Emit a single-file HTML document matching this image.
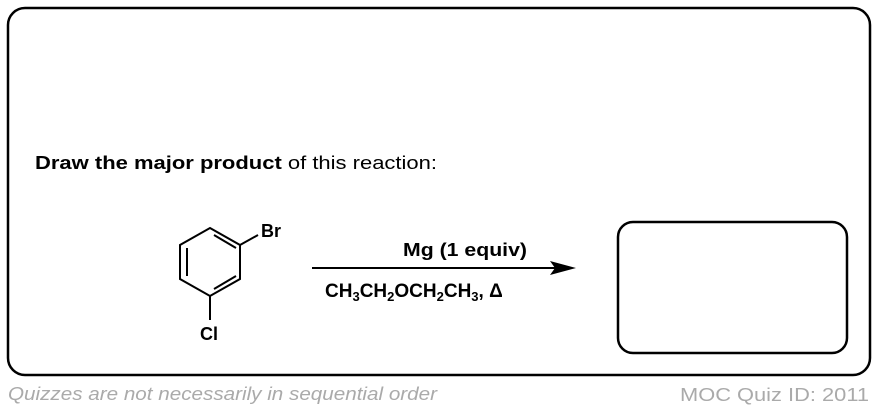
<!DOCTYPE html>
<html><head><style>html,body{margin:0;padding:0;background:#fff;width:878px;height:412px;overflow:hidden}</style></head>
<body>
<svg width="878" height="412" xmlns="http://www.w3.org/2000/svg" font-family="Liberation Sans, Arial, sans-serif">
<rect x="8" y="8" width="862" height="367" rx="17" fill="none" stroke="#000" stroke-width="2.5"/>
<rect x="618" y="222" width="229" height="131" rx="15" fill="none" stroke="#000" stroke-width="2.5"/>
<text x="35" y="169" font-size="18" textLength="402" lengthAdjust="spacingAndGlyphs"><tspan font-weight="bold">Draw the major product</tspan> of this reaction:</text>
<g stroke="#000" stroke-width="2" fill="none">
<polygon points="210,228 240,245 240,279 210,296 180,279 180,245"/>
<line x1="214" y1="235" x2="236" y2="248"/>
<line x1="187" y1="248" x2="187" y2="276"/>
<line x1="214" y1="289" x2="236" y2="276"/>
<line x1="240" y1="245" x2="258" y2="235"/>
<line x1="210" y1="296" x2="210" y2="320"/>
<line x1="312" y1="268" x2="555" y2="268"/>
</g>
<polygon points="576,268 550,261 555,268 550,275" fill="#000"/>
<text x="261" y="237" font-size="18" font-weight="bold">Br</text>
<text x="200" y="340" font-size="18" font-weight="bold">Cl</text>
<text x="403" y="256" font-size="18" font-weight="bold" textLength="124" lengthAdjust="spacingAndGlyphs">Mg (1 equiv)</text>
<text x="325" y="297" font-size="19" font-weight="bold">CH<tspan font-size="13" dy="4">3</tspan><tspan dy="-4">CH</tspan><tspan font-size="13" dy="4">2</tspan><tspan dy="-4">OCH</tspan><tspan font-size="13" dy="4">2</tspan><tspan dy="-4">CH</tspan><tspan font-size="13" dy="4">3</tspan><tspan dy="-4">, Δ</tspan></text>
<text x="8" y="400" font-size="18" font-style="italic" fill="#aaa" textLength="429" lengthAdjust="spacingAndGlyphs">Quizzes are not necessarily in sequential order</text>
<text x="680" y="401" font-size="18" fill="#aaa" textLength="189" lengthAdjust="spacingAndGlyphs">MOC Quiz ID: 2011</text>
</svg>
</body></html>
